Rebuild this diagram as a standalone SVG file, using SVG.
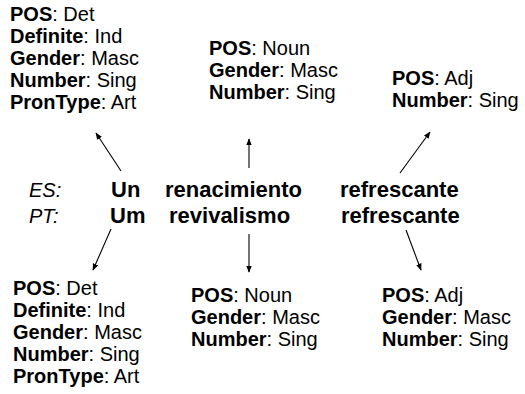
<svg xmlns="http://www.w3.org/2000/svg" width="525" height="394" viewBox="0 0 525 394">
<defs>
<marker id="ah" viewBox="0 0 10 10" refX="9" refY="5" markerWidth="7" markerHeight="7" orient="auto" markerUnits="userSpaceOnUse">
<path d="M0,1 L10,5 L0,9 z" fill="#000"/>
</marker>
<style>
.a{font-family:"Liberation Sans",Arial,Helvetica,sans-serif;font-size:20px;fill:#000;font-weight:normal}
.a tspan.k{font-weight:bold}
.w{font-family:"Liberation Sans",Arial,Helvetica,sans-serif;font-size:22px;font-weight:bold;fill:#000}
.l{font-family:"Liberation Sans",Arial,Helvetica,sans-serif;font-size:20px;font-style:italic;fill:#000}
.c{stroke:#000;stroke-width:1.1;fill:none;marker-end:url(#ah)}
</style>
</defs>
<rect width="525" height="394" fill="#fff"/>
<g id="labels">
<text class="l" x="29" y="197">ES:</text>
<text class="l" x="29" y="223">PT:</text>
</g>
<g id="word-un">
<text class="w" x="111" y="197">Un</text>
<text class="w" x="110" y="223">Um</text>
</g>
<g id="word-renacimiento">
<text class="w" x="165" y="197">renacimiento</text>
<text class="w" x="169" y="223">revivalismo</text>
</g>
<g id="word-refrescante">
<text class="w" x="340" y="197">refrescante</text>
<text class="w" x="341" y="223">refrescante</text>
</g>
<g id="es-un-feats">
<text class="a" x="10" y="21"><tspan class="k">POS</tspan>: Det</text>
<text class="a" x="10" y="43"><tspan class="k">Definite</tspan>: Ind</text>
<text class="a" x="10" y="65"><tspan class="k">Gender</tspan>: Masc</text>
<text class="a" x="10" y="87"><tspan class="k">Number</tspan>: Sing</text>
<text class="a" x="10" y="109"><tspan class="k">PronType</tspan>: Art</text>
</g>
<g id="es-noun-feats">
<text class="a" x="209" y="55"><tspan class="k">POS</tspan>: Noun</text>
<text class="a" x="209" y="77"><tspan class="k">Gender</tspan>: Masc</text>
<text class="a" x="209" y="99"><tspan class="k">Number</tspan>: Sing</text>
</g>
<g id="es-adj-feats">
<text class="a" x="392" y="85"><tspan class="k">POS</tspan>: Adj</text>
<text class="a" x="392" y="107"><tspan class="k">Number</tspan>: Sing</text>
</g>
<g id="pt-um-feats">
<text class="a" x="13" y="295"><tspan class="k">POS</tspan>: Det</text>
<text class="a" x="13" y="317"><tspan class="k">Definite</tspan>: Ind</text>
<text class="a" x="13" y="339"><tspan class="k">Gender</tspan>: Masc</text>
<text class="a" x="13" y="361"><tspan class="k">Number</tspan>: Sing</text>
<text class="a" x="13" y="383"><tspan class="k">PronType</tspan>: Art</text>
</g>
<g id="pt-noun-feats">
<text class="a" x="191" y="302"><tspan class="k">POS</tspan>: Noun</text>
<text class="a" x="191" y="324"><tspan class="k">Gender</tspan>: Masc</text>
<text class="a" x="191" y="346"><tspan class="k">Number</tspan>: Sing</text>
</g>
<g id="pt-adj-feats">
<text class="a" x="382" y="302"><tspan class="k">POS</tspan>: Adj</text>
<text class="a" x="382" y="324"><tspan class="k">Gender</tspan>: Masc</text>
<text class="a" x="382" y="346"><tspan class="k">Number</tspan>: Sing</text>
</g>
<g id="connectors">
<line class="c" x1="121" y1="171" x2="96" y2="133"/>
<line class="c" x1="249" y1="168" x2="249" y2="139"/>
<line class="c" x1="400" y1="173" x2="430" y2="132"/>
<line class="c" x1="111" y1="229" x2="93" y2="270"/>
<line class="c" x1="249" y1="234" x2="249" y2="272"/>
<line class="c" x1="406" y1="230" x2="421" y2="270"/>
</g>
</svg>
